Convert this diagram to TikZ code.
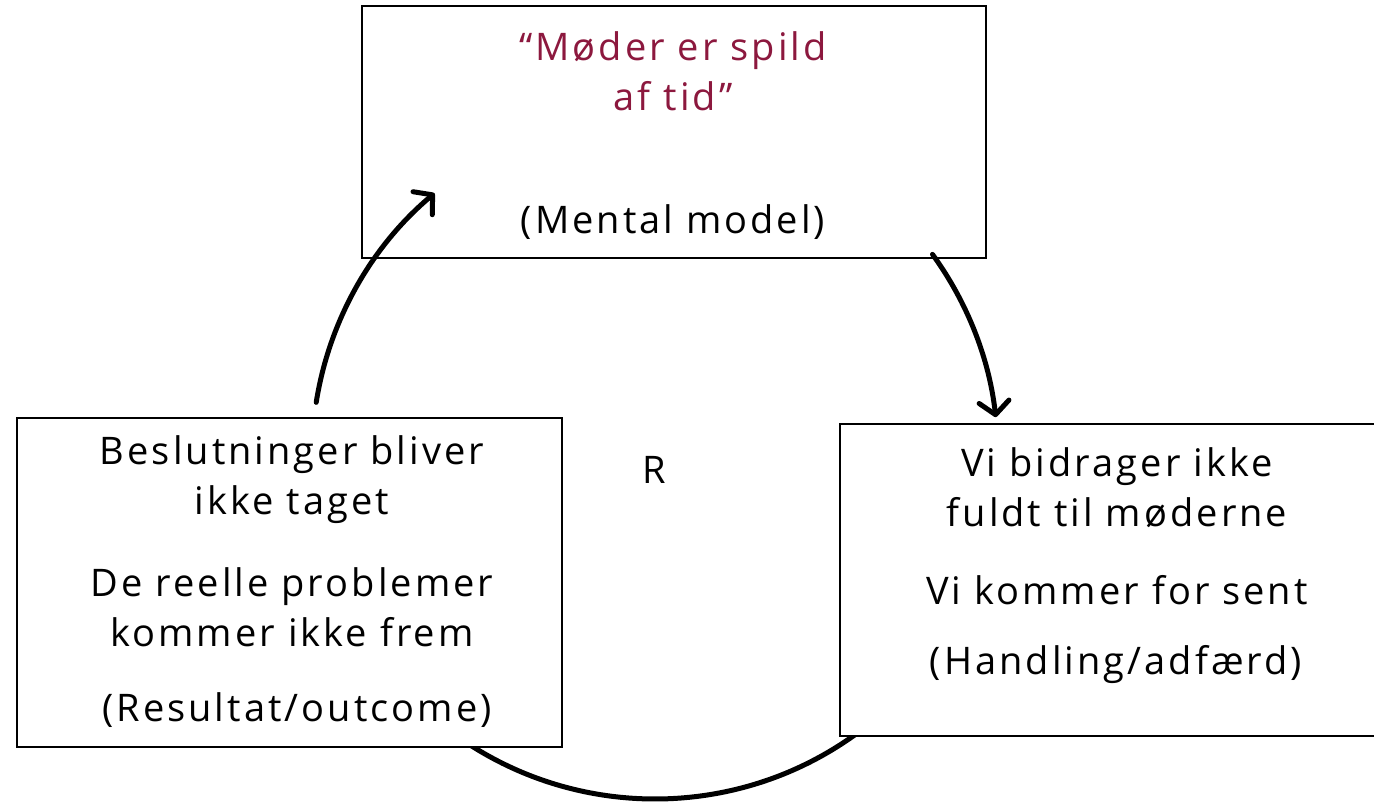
\documentclass[tikz,border=0pt]{standalone}
\usepackage{fontspec}
\setmainfont[LetterSpace=8]{Open Sans}
\usetikzlibrary{arrows.meta,calc}
\definecolor{quotered}{RGB}{140,24,62}
\begin{document}
\begin{tikzpicture}[x=1pt,y=1pt,
  box/.style={draw=black,line width=1.6pt,fill=white,inner sep=0pt,rectangle},
  txt/.style={font=\fontsize{38}{50}\selectfont,align=center,inner sep=0pt},
  loopline/.style={line width=5pt,line cap=round},
  tip/.style={-{Straight Barb[length=13pt,width=30pt,line cap=round,line join=round]}}
]
\useasboundingbox (0,0) rectangle (1374,801);
\coordinate (c) at (655,345);
\draw[loopline] ($(c)+(225:343)$) coordinate (bs) arc (225:315:343) coordinate (be);
\node[box,minimum width=624pt,minimum height=252pt] (top) at (674,669) {};
\node[box,minimum width=545pt,minimum height=329pt] (left) at (289.5,218.5) {};
\node[box,minimum width=540pt,minimum height=312pt] (right) at (1110,221) {};
\node[txt,text=quotered] (q) at (673,730) {“Møder er spild\\af tid”};
\node[txt] (mm) at (673,579) {(Mental model)};
\node[txt] (l1) at (292,321) {Beslutninger bliver\\ikke taget};
\node[txt] (l2) at (292,194) {De reelle problemer\\kommer ikke frem};
\node[txt] (l3) at (297,91) {(Resultat/outcome)};
\node[txt] (r1) at (1117,313.5) {Vi bidrager ikke\\fuldt til møderne};
\node[txt] (r2) at (1117,211) {Vi kommer for sent};
\node[txt] (r3) at (1116,136) {(Handling/adfærd)};
\node[txt] (R) at (654,331) {R};
\draw[loopline,tip] ($(c)+(171:343)$) coordinate (ls) arc (171:130:343) coordinate (le);
\draw[loopline,tip] ($(c)+(36:343)$) coordinate (rs) arc (36:6.5:343) coordinate (re);
\end{tikzpicture}
\end{document}
